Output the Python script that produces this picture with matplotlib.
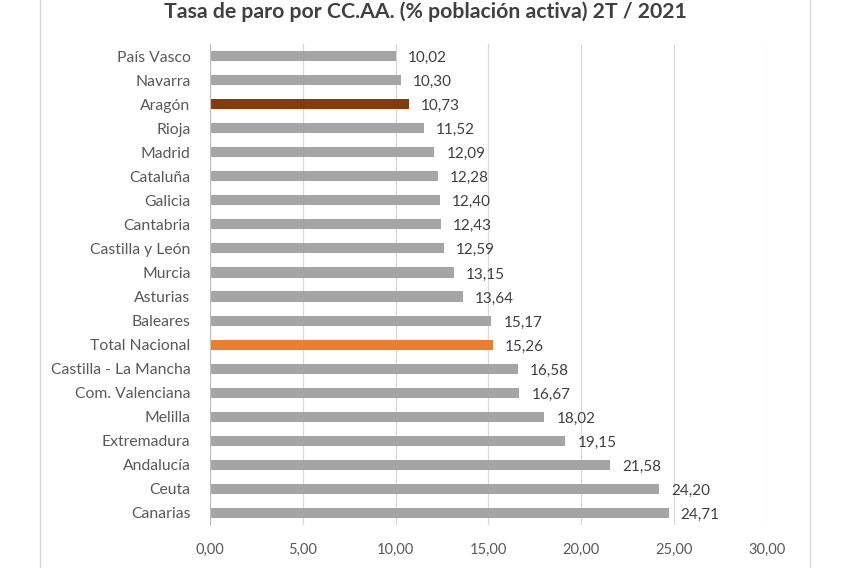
import numpy as np
import matplotlib.pyplot as plt
from matplotlib.lines import Line2D

plt.rcParams['font.family'] = ['Lato', 'DejaVu Sans']

regions = ['País Vasco', 'Navarra', 'Aragón', 'Rioja', 'Madrid', 'Cataluña',
           'Galicia', 'Cantabria', 'Castilla y León', 'Murcia', 'Asturias',
           'Baleares', 'Total Nacional', 'Castilla - La Mancha',
           'Com. Valenciana', 'Melilla', 'Extremadura', 'Andalucía', 'Ceuta',
           'Canarias']
rates = [10.02, 10.30, 10.73, 11.52, 12.09, 12.28, 12.40, 12.43, 12.59, 13.15,
         13.64, 15.17, 15.26, 16.58, 16.67, 18.02, 19.15, 21.58, 24.20, 24.71]
xticks = [0, 5, 10, 15, 20, 25, 30]

colors = []
for r in regions:
    if r == 'Aragón':
        colors.append('#843C0C')
    elif r == 'Total Nacional':
        colors.append('#ED7D31')
    else:
        colors.append('#A5A5A5')

fig = plt.figure(figsize=(8.5, 5.68), dpi=100, facecolor='w')
ax = fig.add_axes([0.247, 0.0757, 0.655, 0.8468])

y = np.arange(len(regions))
ax.barh(y, rates, height=0.42, color=colors, zorder=3)
ax.set_ylim(len(regions) - 0.5, -0.5)
ax.set_xlim(0, 30)

for yi, v in zip(y, rates):
    ax.text(v + 0.65, yi + 0.08, ('%.2f' % v).replace('.', ','), va='center',
            ha='left', fontsize=11, color='#404040', zorder=4)

ax.set_yticks(y)
ax.set_yticklabels(regions, fontsize=11.3, color='#595959')
ax.set_xticks(xticks)
ax.set_xticklabels([('%.2f' % t).replace('.', ',') for t in xticks],
                   fontsize=10.5, color='#595959')
ax.tick_params(axis='both', length=0)
ax.tick_params(axis='x', pad=13)
ax.tick_params(axis='y', pad=14)
ax.grid(axis='x', color='#D9D9D9', lw=0.9, zorder=0)
for s in ['top', 'right', 'bottom']:
    ax.spines[s].set_visible(False)
ax.spines['left'].set_color('#BFBFBF')
ax.spines['left'].set_zorder(5)

fig.text(0.5, 0.998, 'Tasa de paro por CC.AA. (% población activa) 2T / 2021',
         ha='center', va='top', fontsize=15.3, fontweight='bold', color='#404040')

# chart area border (sides)
for xf in [40 / 850, 810 / 850]:
    fig.add_artist(Line2D([xf, xf], [0, 1], transform=fig.transFigure,
                          color='#D9D9D9', lw=1))

fig.savefig('out.png', dpi=100)
